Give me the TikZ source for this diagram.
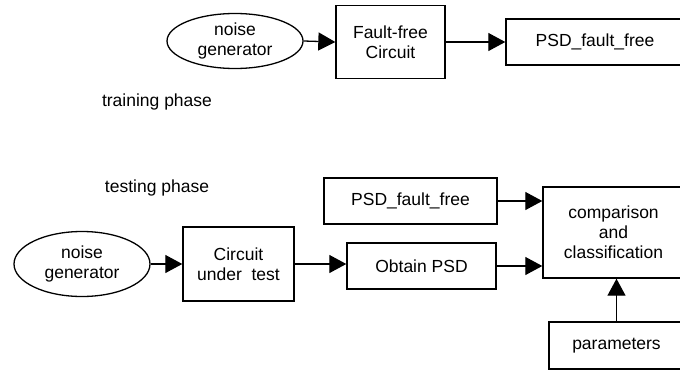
\documentclass[tikz,border=0pt]{standalone}
\usepackage{fontspec}
\setmainfont{Liberation Sans}
\usepackage{tikz}
\usetikzlibrary{arrows.meta, shapes.geometric, positioning}

\begin{document}
\begin{tikzpicture}[x=1pt, y=-1pt,
		box/.style={draw, line width=1.4pt, align=center, inner sep=0pt},
		blob/.style={draw, ellipse, line width=1.3pt, align=center, inner sep=0pt, minimum width=136pt},
		arr/.style={line width=1.3pt, -{Triangle[length=17pt, width=18pt]}},
		every node/.style={font=\fontsize{17.5}{20}\selectfont}]
		\useasboundingbox (0,0) rectangle (680,372);
		
		% training phase:
		\node [blob, minimum height=55pt] (ng1) at (235,41) {noise\\generator};
		\node [box, minimum width=109pt, minimum height=73pt] (ffc) at (390.5,42) {Fault-free\\Circuit};
		\node [box, minimum width=178pt, minimum height=46pt] (psd1) at (595,42) {PSD\_fault\_free};
		\node (train) at (157,102) {training phase};
		\draw[arr] (ng1.east)--(ffc.west);
		\draw[arr] (ffc.east)--(psd1.west);
		
		% testing phase:
		\node (test) at (157,188) {testing phase};
		\node [blob, minimum height=65pt] (ng2) at (82,264) {noise\\generator};
		\node [box, minimum width=111pt, minimum height=74pt] (cut) at (238.5,264) {Circuit\\under\ \ test};
		\node [box, minimum width=149pt, minimum height=46pt] (obt) at (421.5,266) {Obtain PSD};
		\node [box, minimum width=173pt, minimum height=46pt] (psd2) at (410.5,201) {PSD\_fault\_free};
		\node [box, minimum width=141pt, minimum height=91pt] (cmp) at (613.5,232.5) {comparison\\and\\classification};
		\node [box, minimum width=135pt, minimum height=47pt] (par) at (616.5,345.5) {parameters};
		\draw[arr] (ng2.east)--(cut.west);
		\draw[arr] (cut.east)--(cut.east -| obt.west);
		\draw[arr] (psd2.east)--(psd2.east -| cmp.west);
		\draw[arr] (obt.east)--(obt.east -| cmp.west);
		\draw[arr] (par.north)--(par.north |- cmp.south);
	\end{tikzpicture}
\end{document}
